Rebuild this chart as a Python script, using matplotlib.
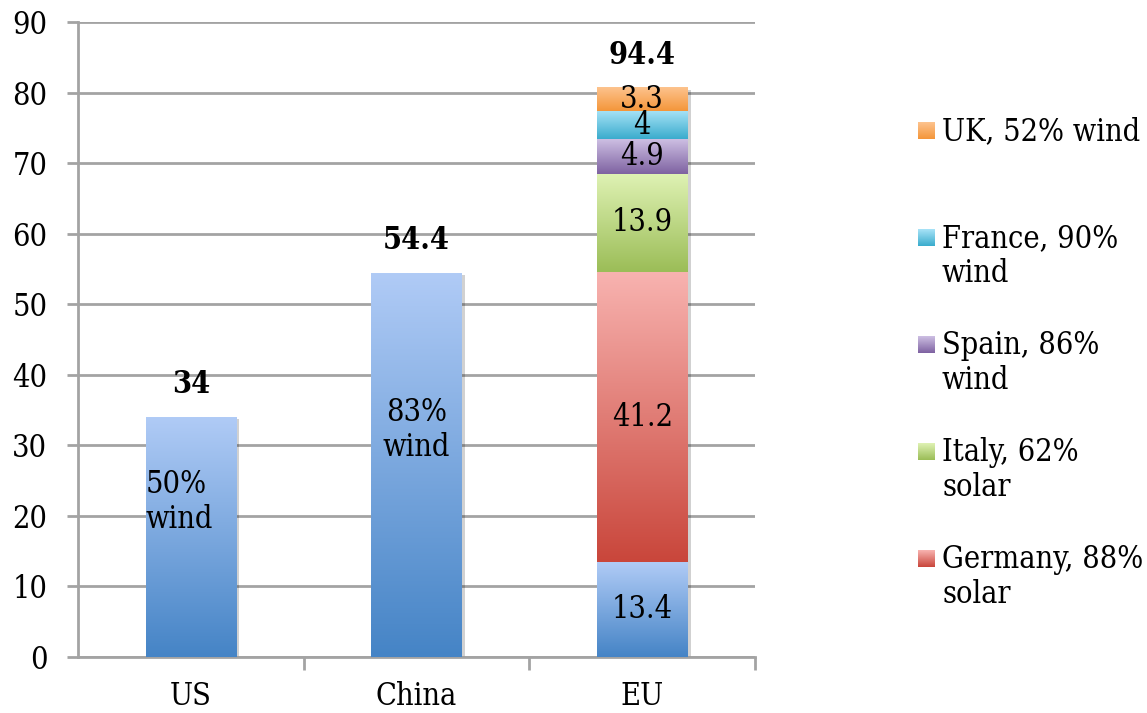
import numpy as np
import matplotlib
matplotlib.use('Agg')
import matplotlib.pyplot as plt
from matplotlib import patheffects
from matplotlib.colors import to_rgb

plt.rcParams['font.family'] = ['DejaVu Serif']
plt.rcParams['font.stretch'] = 'condensed'

FS = 22

# capacity per region, blue part = wind-led build-out
regions = ['US', 'China', 'EU']
base_values = [34, 54.4, 13.4]
base_notes = ['50%\nwind', '83%\nwind', '13.4']
total_labels = ['34', '54.4', '94.4']

# EU members stacked on top of the blue base
eu_countries = ['Germany, 88%\nsolar', 'Italy, 62%\nsolar', 'Spain, 86%\nwind',
                'France, 90%\nwind', 'UK, 52% wind']
eu_values = [41.2, 13.9, 4.9, 4, 3.3]

# (top, bottom) of each gradient
base_grad = ('#b0cbf6', '#4584c6')
eu_grads = [('#f8b3b0', '#c9463b'),
            ('#dff2b4', '#9bbd57'),
            ('#cdbfe3', '#7e62a1'),
            ('#a8e3f7', '#3aaccd'),
            ('#fdc38e', '#f4963a')]

GRID = '#a3a3a3'
W = 0.40


def gradient_bar(ax, x, bottom, height, colors, width=W):
    top_c, bot_c = np.array(to_rgb(colors[0])), np.array(to_rgb(colors[1]))
    t = np.linspace(0, 1, 200)[:, None]
    img = (top_c * (1 - t) + bot_c * t)[:, None, :]
    bars = ax.bar(x, height, width, bottom=bottom, color='white', zorder=2)
    for b in bars:
        b.set_path_effects([patheffects.SimplePatchShadow(offset=(2.5, -1.5), shadow_rgbFace='#000000', alpha=0.18),
                            patheffects.Normal()])
        x0, y0 = b.get_x(), b.get_y()
        ax.imshow(img, extent=(x0, x0 + b.get_width(), y0, y0 + b.get_height()),
                  aspect='auto', origin='upper', zorder=3, interpolation='bilinear')


fig = plt.figure(figsize=(11.47, 7.13), dpi=100)
ax = fig.add_axes([78 / 1147, 1 - 657 / 713, (755 - 78) / 1147, (657 - 22) / 713])

x = np.arange(len(regions))
for i in range(len(regions)):
    gradient_bar(ax, x[i], 0, base_values[i], base_grad)

bottom = base_values[2]
for val, grad in zip(eu_values, eu_grads):
    gradient_bar(ax, x[2], bottom, val, grad)
    ax.text(x[2], bottom + val / 2, f'{val:g}', ha='center', va='center', fontsize=FS, zorder=5)
    bottom += val
tops = [base_values[0], base_values[1], bottom]

# labels inside the blue bars
ax.text(x[0] - W / 2, 22, base_notes[0], ha='left', va='center', fontsize=FS, zorder=5, linespacing=1.15)
ax.text(x[1], 32.2, base_notes[1], ha='center', va='center', fontsize=FS, zorder=5, linespacing=1.15)
ax.text(x[2], base_values[2] / 2, base_notes[2], ha='center', va='center', fontsize=FS, zorder=5)

for i, lab in enumerate(total_labels):
    ax.text(x[i], tops[i] + 4.6, lab, ha='center', va='center', fontsize=FS, fontweight='bold', zorder=5)

ax.set_xlim(-0.5, 2.5)
ax.set_ylim(0, 90)
ax.set_yticks(np.arange(0, 91, 10))
ax.yaxis.grid(True, color=GRID, linewidth=2)
ax.set_axisbelow(True)
for s in ['top', 'right']:
    ax.spines[s].set_visible(False)
for s in ['left', 'bottom']:
    ax.spines[s].set_color(GRID)
    ax.spines[s].set_linewidth(2)
ax.tick_params(axis='y', length=8, width=2, color=GRID, pad=14, labelsize=FS)
ax.set_xticks([0.5, 1.5, 2.5])
ax.set_xticklabels([])
ax.set_xticks(x, minor=True)
ax.set_xticklabels(regions, minor=True)
ax.tick_params(axis='x', which='major', length=9, width=2, color=GRID)
ax.tick_params(axis='x', which='minor', length=0, pad=17, labelsize=FS)

# legend drawn on an overlay in pixel units
lax = fig.add_axes([0, 0, 1, 1])
lax.set_xlim(0, 1147)
lax.set_ylim(713, 0)
lax.axis('off')
for k, i in enumerate(reversed(range(len(eu_countries)))):
    yc = 130 + 107 * k
    top_c, bot_c = np.array(to_rgb(eu_grads[i][0])), np.array(to_rgb(eu_grads[i][1]))
    t = np.linspace(0, 1, 50)[:, None]
    img = (top_c * (1 - t) + bot_c * t)[:, None, :]
    lax.imshow(img, extent=(918, 935, yc + 9, yc - 8), aspect='auto', origin='upper')
    lax.text(942, yc - 14, eu_countries[i], ha='left', va='top', fontsize=FS, linespacing=1.15)
lax.set_xlim(0, 1147)
lax.set_ylim(713, 0)

fig.savefig('out.png', dpi=100)
